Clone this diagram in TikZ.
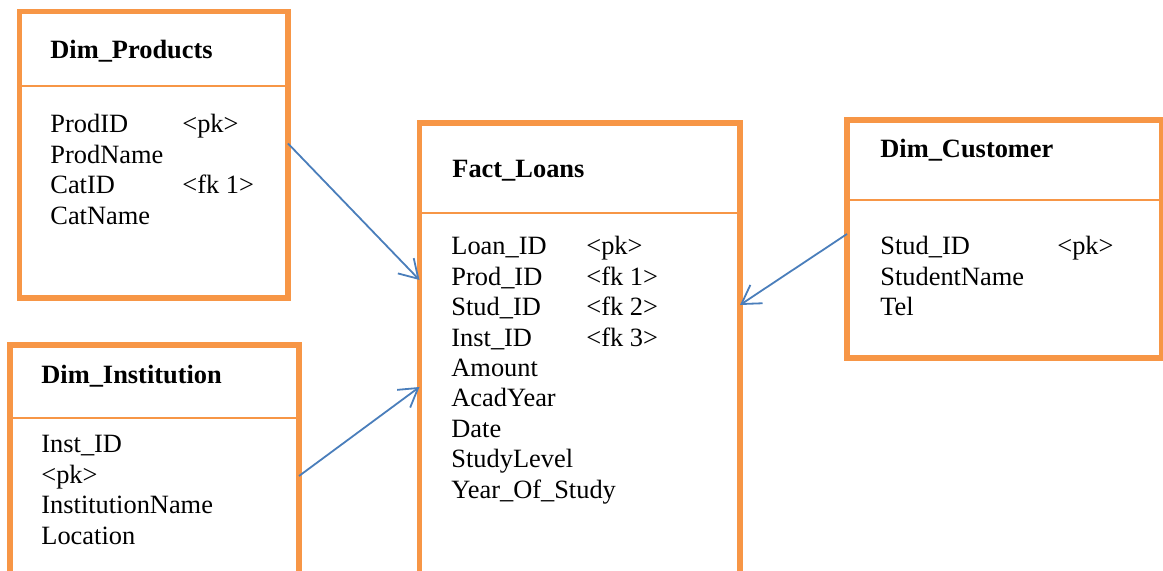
\documentclass[tikz,border=0pt]{standalone}
\usepackage{fontspec}
\setmainfont{Liberation Serif}
\usepackage{xcolor}
\usepackage{tikz}
\usetikzlibrary{arrows.meta, positioning}
\definecolor{tblorange}{RGB}{247,150,70}
\definecolor{lnkblue}{RGB}{74,126,187}

\begin{document}
\begin{tikzpicture}[
    x=0.5pt, y=-0.5pt,
    tbl/.style={rectangle, draw=tblorange, line width=2.6pt, anchor=north west,
                inner sep=0pt, outer sep=0pt},
    ttl/.style={anchor=base west, inner sep=0pt, font=\fontsize{13.2}{15.2}\selectfont\bfseries},
    fld/.style={anchor=base west, inner sep=0pt, font=\fontsize{13.2}{15.2}\selectfont},
    sep/.style={draw=tblorange, line width=0.8pt},
    arr/.style={-{Straight Barb[length=9pt,width=11pt]}, draw=lnkblue, line width=0.9pt}
]
\useasboundingbox (0,0) rectangle (1163,571);

\node[tbl, minimum width=134.25pt, minimum height=143.25pt] (prod) at (19.5,11.5) {};
\node[tbl, minimum width=144.5pt, minimum height=140pt] (inst) at (10,345) {};
\node[tbl, minimum width=160.25pt, minimum height=250pt] (fact) at (419.5,123) {};
\node[tbl, minimum width=157.5pt, minimum height=119pt] (cust) at (847,120) {};

\draw[sep] ([yshift=-37.25pt]prod.north west) -- ([yshift=-37.25pt]prod.north east);
\draw[sep] ([yshift=-36.5pt]inst.north west) -- ([yshift=-36.5pt]inst.north east);
\draw[sep] ([yshift=-45pt]fact.north west) -- ([yshift=-45pt]fact.north east);
\draw[sep] ([yshift=-40pt]cust.north west) -- ([yshift=-40pt]cust.north east);

\node[ttl] (prodttl) at (50,59) {Dim\_Products};
\node[fld] (prodfld) at (50,133) {\begin{tabular}[t]{@{}p{66pt}@{}l@{}}
    ProdID & <pk>\\ ProdName & \\ CatID & <fk 1>\\ CatName & \end{tabular}};

\node[ttl] (instttl) at (41,384) {Dim\_Institution};
\node[fld] (instfld) at (41,453) {\begin{tabular}[t]{@{}l@{}}
    Inst\_ID\\ <pk>\\ InstitutionName\\ Location\end{tabular}};

\node[ttl] (factttl) at (452,178) {Fact\_Loans};
\node[fld] (factfld) at (451,255) {\begin{tabular}[t]{@{}p{67.5pt}@{}l@{}}
    Loan\_ID & <pk>\\ Prod\_ID & <fk 1>\\ Stud\_ID & <fk 2>\\ Inst\_ID & <fk 3>\\
    Amount & \\ AcadYear & \\ Date & \\ StudyLevel & \\ Year\_Of\_Study & \end{tabular}};

\node[ttl] (custttl) at (880,158) {Dim\_Customer};
\node[fld] (custfld) at (880,255) {\begin{tabular}[t]{@{}p{88.5pt}@{}l@{}}
    Stud\_ID & <pk>\\ StudentName & \\ Tel & \end{tabular}};

\draw[arr] ([yshift=-66pt]prod.north east) -- ([yshift=-78.5pt]fact.north west);
\draw[arr] ([yshift=-65.5pt]inst.north east) -- ([yshift=-132pt]fact.north west);
\draw[arr] ([yshift=-57pt]cust.north west) -- ([yshift=-91pt]fact.north east);
\end{tikzpicture}
\end{document}
